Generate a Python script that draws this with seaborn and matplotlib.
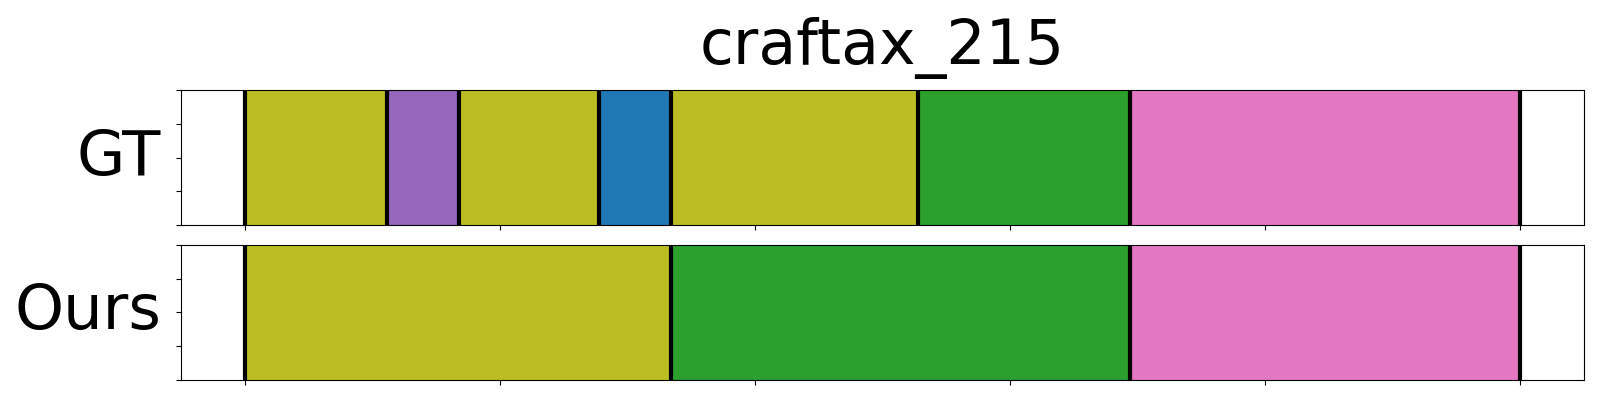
import matplotlib
matplotlib.use("Agg")
import matplotlib.pyplot as plt
import seaborn as sns

sns.set_style("ticks", {"axes.edgecolor": "black", "xtick.color": "black",
                        "ytick.color": "black", "text.color": "black",
                        "axes.labelcolor": "black"})
plt.rcParams['font.family'] = ['DejaVu Sans']

title = "craftax_215"
row_names = ["GT", "Ours"]

# segment boundaries (frame index) and tab10 class index of each segment
gt_bounds = [0, 56, 84, 139, 167, 264, 347, 500]
gt_classes = [8, 4, 8, 0, 8, 2, 6]
ours_bounds = [0, 167, 347, 500]
ours_classes = [8, 2, 6]

x_ticks = [0, 100, 200, 300, 400, 500]
y_ticks = [0, 0.25, 0.5, 0.75, 1.0]

palette = sns.color_palette("tab10")

fig, axes = plt.subplots(2, 1, figsize=(16, 4), dpi=100, sharex=True)
fig.subplots_adjust(left=0.113, right=0.99, top=0.775, bottom=0.05, hspace=0.148)

for ax, name, bounds, classes in zip(axes, row_names,
                                     [gt_bounds, ours_bounds],
                                     [gt_classes, ours_classes]):
    for k, c in enumerate(classes):
        ax.axvspan(bounds[k], bounds[k + 1], color=palette[c], lw=0)
    for b in bounds:
        ax.axvline(b, color='black', lw=3)
    ax.set_ylim(0, 1)
    ax.set_yticks(y_ticks)
    ax.set_yticklabels([])
    ax.set_xticks(x_ticks)
    ax.tick_params(labelbottom=False)
    ax.set_ylabel(name, fontsize=45, rotation=0, ha='right', va='center', labelpad=7)

axes[0].set_title(title, fontsize=44.5, pad=19)

plt.savefig("out.png", dpi=100)
